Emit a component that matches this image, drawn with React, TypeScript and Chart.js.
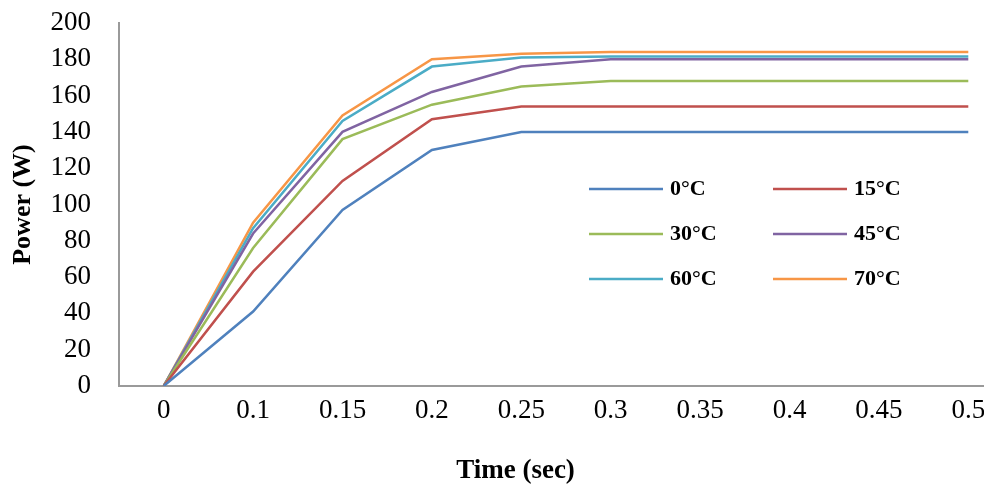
import React, { useEffect, useRef } from 'react';
import { Chart, registerables } from 'chart.js';

Chart.register(...registerables);

// ---- data ----
const timeLabels = ['0', '0.1', '0.15', '0.2', '0.25', '0.3', '0.35', '0.4', '0.45', '0.5'];
const seriesNames = ['0°C', '15°C', '30°C', '45°C', '60°C', '70°C'];
const power0 = [0, 41, 97, 130, 140, 140, 140, 140, 140, 140];
const power15 = [0, 63, 113, 147, 154, 154, 154, 154, 154, 154];
const power30 = [0, 76, 136, 155, 165, 168, 168, 168, 168, 168];
const power45 = [0, 84, 140, 162, 176, 180, 180, 180, 180, 180];
const power60 = [0, 87, 146, 176, 181, 181.5, 181.5, 181.5, 181.5, 181.5];
const power70 = [0, 90, 149, 180, 183, 184, 184, 184, 184, 184];
const seriesValues = [power0, power15, power30, power45, power60, power70];
const seriesColors = ['#4F81BD', '#C0504D', '#9BBB59', '#8064A2', '#4BACC6', '#F79646'];
const yMin = 0;
const yMax = 200;
const yStep = 20;
const xTitle = 'Time (sec)';
const yTitle = 'Power (W)';

const FONT = '"Liberation Serif", "Times New Roman", serif';

const insideLegend = {
  id: 'insideLegend',
  afterDatasetsDraw(chart: any) {
    const { ctx, chartArea } = chart;
    const cols = [470, 654];
    const rows = [166, 211, 256];
    const lineLen = 74;
    const gap = 7;
    ctx.save();
    ctx.font = `bold 22px ${FONT}`;
    ctx.textBaseline = 'middle';
    ctx.textAlign = 'left';
    chart.data.datasets.forEach((ds: any, i: number) => {
      const x = chartArea.left + cols[i % 2];
      const y = chartArea.top + rows[Math.floor(i / 2)];
      ctx.strokeStyle = ds.borderColor;
      ctx.lineWidth = 2.5;
      ctx.beginPath();
      ctx.moveTo(x, y);
      ctx.lineTo(x + lineLen, y);
      ctx.stroke();
      ctx.fillStyle = '#000';
      ctx.fillText(ds.label, x + lineLen + gap, y);
    });
    ctx.restore();
  },
};

export default function App() {
  const canvasRef = useRef<HTMLCanvasElement | null>(null);

  useEffect(() => {
    if (!canvasRef.current) return;
    Chart.defaults.font.family = FONT;
    const chart = new Chart(canvasRef.current, {
      type: 'line',
      data: {
        labels: timeLabels,
        datasets: seriesNames.map((name, i) => ({
          label: name,
          data: seriesValues[i],
          borderColor: seriesColors[i],
          backgroundColor: seriesColors[i],
          borderWidth: 2.5,
          pointRadius: 0,
          tension: 0,
          fill: false,
        })),
      },
      options: {
        animation: false,
        responsive: true,
        maintainAspectRatio: false,
        layout: { padding: { left: 18, top: 23, right: 0, bottom: 0 } },
        plugins: {
          legend: { display: false },
          tooltip: { enabled: false },
          title: {
            display: true,
            position: 'bottom',
            text: xTitle,
            color: '#000',
            font: { family: FONT, size: 27, weight: 'bold' },
            padding: { top: 18.6, bottom: 1 },
          },
        },
        scales: {
          x: {
            type: 'category',
            offset: true,
            grid: { display: false, drawTicks: false },
            border: { display: true, color: '#9a9a9a', width: 2 },
            ticks: {
              color: '#000',
              font: { family: FONT, size: 27 },
              padding: 9,
              autoSkip: false,
              maxRotation: 0,
              minRotation: 0,
            },
            afterFit: (scale: any) => {
              scale.height = 50;
            },
          },
          y: {
            min: yMin,
            max: yMax,
            grid: { display: false, drawTicks: false },
            border: { display: true, color: '#9a9a9a', width: 2 },
            ticks: {
              stepSize: yStep,
              autoSkip: false,
              color: '#000',
              font: { family: FONT, size: 27 },
              padding: 28,
            },
            title: {
              display: true,
              text: yTitle,
              color: '#000',
              font: { family: FONT, size: 26, weight: 'bold' },
              padding: { top: -10, bottom: 0 },
            },
            afterFit: (scale: any) => {
              scale.width = 101;
              scale.paddingTop = 0;
              scale.paddingBottom = 0;
            },
          },
        },
      },
      plugins: [insideLegend],
    });
    return () => chart.destroy();
  }, []);

  return (
    <div
      style={{
        position: 'fixed',
        left: 0,
        top: 0,
        width: 984,
        height: 488,
        overflow: 'hidden',
        background: '#fff',
      }}
    >
      <div style={{ position: 'relative', width: 1013, height: 488 }}>
        <canvas ref={canvasRef} />
      </div>
    </div>
  );
}
